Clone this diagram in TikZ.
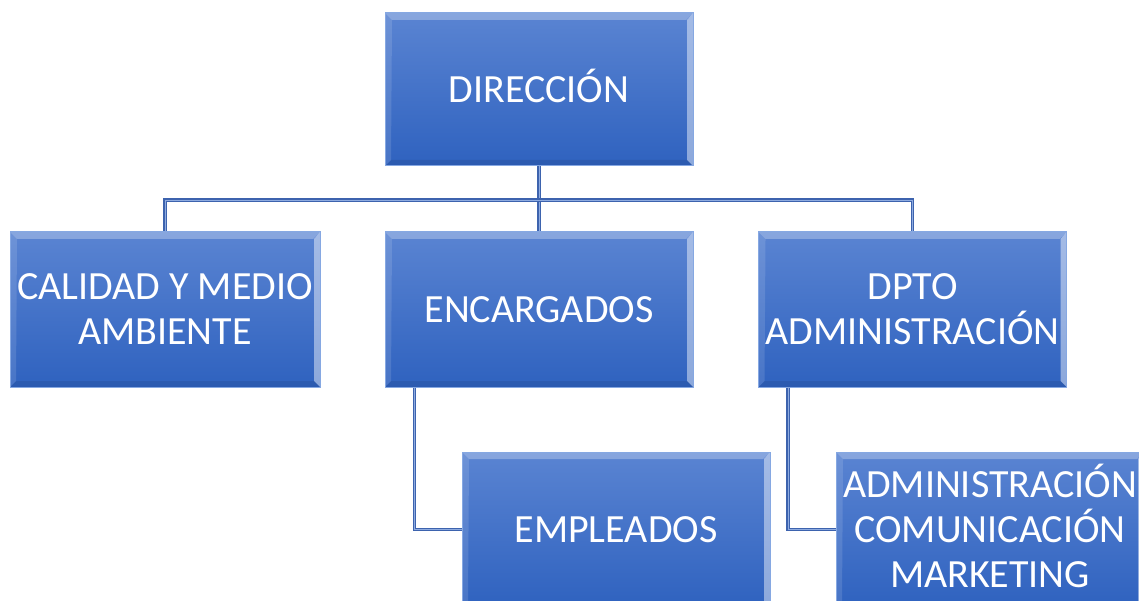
\documentclass[tikz,border=0pt]{standalone}
\usepackage{fontspec}
\setmainfont{Carlito}
\usepackage{tikz}
\definecolor{boxtop}{HTML}{5A84D2}
\definecolor{boxbot}{HTML}{2F62BF}
\definecolor{boxrim}{HTML}{86A8E2}
\definecolor{linkblue}{HTML}{3D63AE}
\definecolor{linklight}{HTML}{8EABE0}
\tikzset{
  orgbox/.style={rectangle, minimum width=308pt, minimum height=154pt,
    inner sep=0pt, align=center, text=white, draw=boxrim, line width=1pt,
    top color=boxtop, bottom color=boxbot,
    font=\fontsize{40}{45}\selectfont,
    path picture={
      \fill[white,opacity=.28] (path picture bounding box.north west)
        -- (path picture bounding box.north east)
        -- ([shift={(-7pt,-7pt)}]path picture bounding box.north east)
        -- ([shift={(7pt,-7pt)}]path picture bounding box.north west) -- cycle;
      \fill[white,opacity=.45] (path picture bounding box.north east)
        -- (path picture bounding box.south east)
        -- ([shift={(-6pt,6pt)}]path picture bounding box.south east)
        -- ([shift={(-6pt,-7pt)}]path picture bounding box.north east) -- cycle;
      \fill[white,opacity=.12] (path picture bounding box.north west)
        -- (path picture bounding box.south west)
        -- ([shift={(6pt,6pt)}]path picture bounding box.south west)
        -- ([shift={(7pt,-7pt)}]path picture bounding box.north west) -- cycle;
      \fill[black,opacity=.08] (path picture bounding box.south west)
        -- (path picture bounding box.south east)
        -- ([shift={(-6pt,6pt)}]path picture bounding box.south east)
        -- ([shift={(6pt,6pt)}]path picture bounding box.south west) -- cycle;
    }},
  link/.style={draw=linkblue, double=linklight, double distance=0.9pt, line width=1.1pt}
}
\begin{document}
\begin{tikzpicture}[x=1pt,y=-1pt]
  \clip (0,0) rectangle (1139,601);
  \fill[white] (0,0) rectangle (1139,601);

  % boxes
  \coordinate (bus) at (539,200);
  \node[orgbox, minimum height=153pt] (dir) at (539,89.5) {DIRECCI\smash{Ó}N};
  \node[orgbox, minimum width=310pt, minimum height=155pt] (calidad) at (165,309.5) {CALIDAD Y MEDIO\\AMBIENTE};
  \node[orgbox, minimum height=155pt] (encarg) at (539,309.5) {ENCARGADOS};
  \node[orgbox, minimum height=155pt] (dpto) at (912.5,309.5) {DPTO\\ADMINISTRACIÓN};
  \node[orgbox, minimum height=155pt] (emple) at (616,529.5) {EMPLEADOS};
  \node[orgbox, minimum height=155pt] (admin) at (990,529.5) {ADMINISTRACI\smash{Ó}N\\COMUNICACIÓN\\MARKETING};

  % connectors
  \draw[link] (dir.south) -- (encarg.north);
  \draw[link] (bus) -| (calidad.north);
  \draw[link] (bus) -| (dpto.north);
  \draw[link] ([xshift=30pt]encarg.south west) |- (emple.west);
  \draw[link] ([xshift=30pt]dpto.south west) |- (admin.west);
\end{tikzpicture}
\end{document}
